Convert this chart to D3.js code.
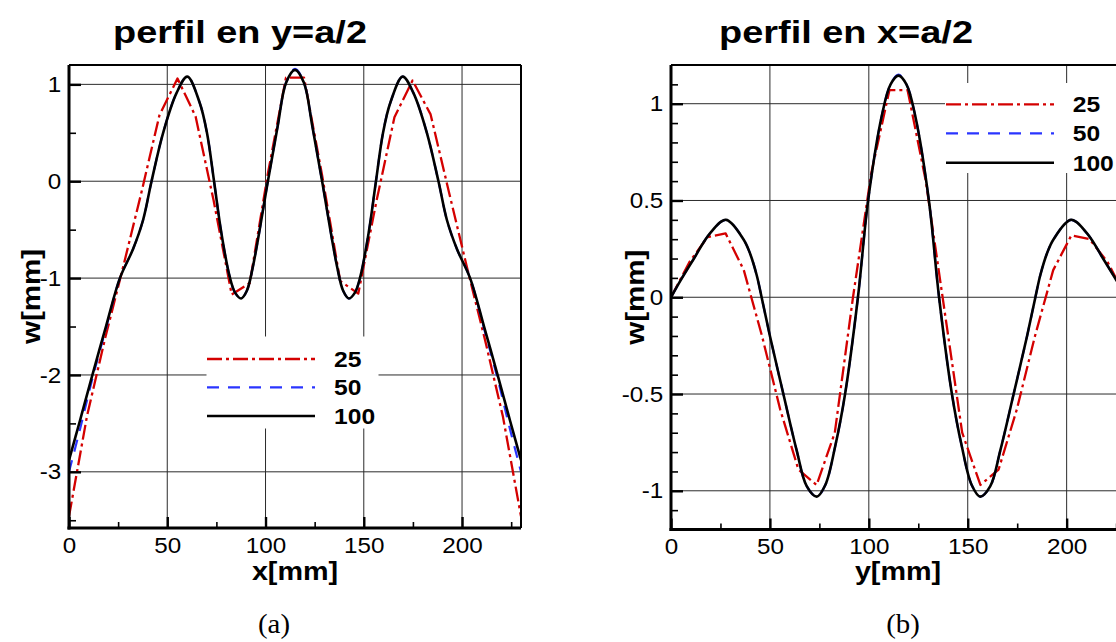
<!DOCTYPE html>
<html>
<head>
<meta charset="utf-8">
<script src="https://cdn.jsdelivr.net/npm/d3@7"></script>
<style>
  body { margin: 0; background: #fff; }
  svg { display: block; }
</style>
</head>
<body>
<svg id="chart" width="1116" height="642"></svg>
<script>
// Mesh sizes shown in the legends
const meshLabels = ["25", "50", "100"];

// (a) profile along y = a/2 : coarse mesh nodes
const aX25 = [0, 9.2, 18.4, 27.6, 36.8, 46, 55.2, 64.4, 73.6, 82.8, 92, 101.2, 110.4, 119.6,
              128.8, 138, 147.2, 156.4, 165.6, 174.8, 184, 193.2, 202.4, 211.6, 220.8, 230];
const aW25 = [-3.46, -2.42, -1.62, -0.88, -0.12, 0.68, 1.06, 0.67, -0.2, -1.17, -1.05, 0.08, 1.07, 1.07,
              0.06, -1.03, -1.16, -0.21, 0.66, 1.04, 0.69, -0.1, -0.88, -1.63, -2.43, -3.46];

// (a) finer meshes, sampled positions along x
const aX = [0, 5.6, 11.5, 18.8, 25.9, 32.6, 37.7, 42, 47.9, 54.7, 60.2, 66.5, 70.2, 73.8, 77.5, 81.7,
            84.5, 87.6, 90.5, 93.6, 101.2, 106.2, 110.5, 115, 119.5, 123.8, 128.8, 136.4, 139.5, 142.4,
            145.5, 148.3, 152.5, 156.2, 159.8, 163.5, 169.8, 175.3, 182.1, 188, 192.3, 197.4, 204.1,
            211.2, 218.5, 224.4, 230];
const aW50 = [-3.0, -2.56, -2.07, -1.52, -1.0, -0.7, -0.4, 0, 0.5, 0.91, 1.08, 0.81, 0.5, 0, -0.53, -0.98,
              -1.15, -1.21, -1.13, -0.88, 0, 0.57, 1.02, 1.16, 1.02, 0.57, 0, -0.88, -1.13, -1.21,
              -1.15, -0.98, -0.53, 0, 0.5, 0.81, 1.08, 0.91, 0.5, 0, -0.4, -0.7, -1.0,
              -1.52, -2.07, -2.56, -3.0];
const aW100 = [-2.88, -2.47, -2.03, -1.5, -1.0, -0.7, -0.4, 0, 0.5, 0.91, 1.08, 0.81, 0.5, 0, -0.53, -0.98,
               -1.15, -1.21, -1.13, -0.88, 0, 0.57, 1.02, 1.15, 1.02, 0.57, 0, -0.88, -1.13, -1.21,
               -1.15, -0.98, -0.53, 0, 0.5, 0.81, 1.08, 0.91, 0.5, 0, -0.4, -0.7, -1.0,
               -1.5, -2.03, -2.47, -2.88];

// (b) profile along x = a/2 : coarse mesh nodes
const bX25 = [0, 9.2, 18.4, 27.6, 36.8, 46, 55.2, 64.4, 73.6, 82.8, 92, 101.2, 110.4, 119.6,
              128.8, 138, 147.2, 156.4, 165.6, 174.8, 184, 193.2, 202.4, 211.6, 220.8, 230];
const bW25 = [0, 0.18, 0.31, 0.33, 0.14, -0.2, -0.58, -0.89, -0.97, -0.7, 0, 0.64, 1.07, 1.07,
              0.6, -0.05, -0.7, -0.97, -0.89, -0.58, -0.2, 0.14, 0.32, 0.3, 0.18, 0];

// (b) finer meshes, sampled positions along y
const bX = [0, 5, 11.3, 19.7, 27.8, 36.6, 40, 43.3, 45.8, 50, 56.8, 63.5, 68.6, 73.7, 78, 83, 88, 94.5,
            99.7, 106.5, 111, 115, 119, 123.5, 130.3, 135.5, 142, 147, 152, 156.3, 161.4, 166.5,
            173.2, 180, 184.2, 186.7, 190, 193.4, 202.2, 210.3, 218.7, 225, 230];
const bW50 = [0, 0.09, 0.195, 0.33, 0.4, 0.3, 0.225, 0.115, 0, -0.2, -0.5, -0.79, -0.976, -1.03, -0.97, -0.77, -0.5, 0,
              0.505, 0.935, 1.1, 1.15, 1.1, 0.935, 0.505, 0, -0.5, -0.77, -0.97, -1.03, -0.976, -0.79,
              -0.5, -0.2, 0, 0.115, 0.225, 0.3, 0.4, 0.33, 0.195, 0.09, 0];
const bW100 = [0, 0.09, 0.195, 0.33, 0.4, 0.3, 0.225, 0.115, 0, -0.2, -0.5, -0.79, -0.976, -1.03, -0.97, -0.77, -0.5, 0,
               0.505, 0.935, 1.1, 1.145, 1.1, 0.935, 0.505, 0, -0.5, -0.77, -0.97, -1.03, -0.976, -0.79,
               -0.5, -0.2, 0, 0.115, 0.225, 0.3, 0.4, 0.33, 0.195, 0.09, 0];

// Axis ticks
const xMajor = [0, 50, 100, 150, 200];
const xMinor = [25, 75, 125, 175, 225];
const aYMajor = [-3, -2, -1, 0, 1];
const aYMinor = [-3.5, -2.5, -1.5, -0.5, 0.5];
const bYMajor = [-1, -0.5, 0, 0.5, 1];
const bYMinor = [-1.1, -0.9, -0.8, -0.7, -0.6, -0.4, -0.3, -0.2, -0.1,
                 0.1, 0.2, 0.3, 0.4, 0.6, 0.7, 0.8, 0.9, 1.1];

const SANS = "'Liberation Sans', Arial, Helvetica, sans-serif";
const SERIF = "'Liberation Serif', 'Times New Roman', serif";

const styles = [
  { color: "#d40000", width: 2.3, dash: "15,4,3,4", curve: d3.curveLinear },
  { color: "#2a35ff", width: 2.2, dash: "12,9", curve: d3.curveCatmullRom.alpha(0.5) },
  { color: "#000000", width: 2.6, dash: null, curve: d3.curveCatmullRom.alpha(0.5) }
];

const svg = d3.select("#chart");

// Text whose glyphs are widened horizontally by factor sx
function wideText(parent, x, y, str, size, sx, o = {}) {
  const rot = o.rotate ? ` rotate(${o.rotate})` : "";
  return parent.append("text")
    .attr("transform", `translate(${x},${y})${rot} scale(${sx},1)`)
    .attr("text-anchor", o.anchor || "middle")
    .attr("font-family", o.family || SANS)
    .attr("font-weight", o.weight || "bold")
    .attr("font-size", size)
    .attr("fill", "#000")
    .text(str);
}

function panel(cfg) {
  const x = d3.scaleLinear().domain([0, 230]).range([cfg.left, cfg.right]);
  const y = d3.scaleLinear().domain(cfg.yDomain).range([cfg.bottom, cfg.top]);
  const g = svg.append("g");

  g.append("clipPath").attr("id", cfg.id + "-clip")
    .append("rect")
    .attr("x", cfg.left).attr("y", cfg.top)
    .attr("width", cfg.right - cfg.left).attr("height", cfg.bottom - cfg.top);

  // grid lines at the major ticks
  const grid = g.append("g").attr("stroke", "#2b2b2b").attr("stroke-width", 1);
  grid.selectAll("line.gx").data(xMajor.filter(d => d > 0)).join("line").attr("class", "gx")
    .attr("x1", d => x(d)).attr("x2", d => x(d))
    .attr("y1", cfg.top).attr("y2", cfg.bottom);
  grid.selectAll("line.gy").data(cfg.yMajor).join("line").attr("class", "gy")
    .attr("x1", cfg.left).attr("x2", cfg.right)
    .attr("y1", d => y(d)).attr("y2", d => y(d));

  // legend background hides the grid under it
  const L = cfg.legend;
  g.append("rect").attr("x", L.x0).attr("y", L.y0)
    .attr("width", L.x1 - L.x0).attr("height", L.y1 - L.y0).attr("fill", "#fff");

  // curves
  const curves = g.append("g").attr("clip-path", `url(#${cfg.id}-clip)`).attr("fill", "none");
  cfg.series.forEach((s, i) => {
    const st = styles[i];
    const pts = s.x.map((v, k) => [v, s.w[k]]);
    curves.append("path")
      .datum(pts)
      .attr("stroke", st.color)
      .attr("stroke-width", st.width)
      .attr("stroke-dasharray", st.dash)
      .attr("stroke-linejoin", "round")
      .attr("d", d3.line().x(d => x(d[0])).y(d => y(d[1])).curve(st.curve));
  });

  // legend entries
  meshLabels.forEach((lab, i) => {
    const st = styles[i];
    const ry = L.rows[i];
    g.append("line")
      .attr("x1", L.lx0).attr("x2", L.lx1).attr("y1", ry).attr("y2", ry)
      .attr("stroke", st.color).attr("stroke-width", st.width)
      .attr("stroke-dasharray", st.dash);
    wideText(g, L.tx, ry + 8, lab, 22, 1.12, { anchor: "start" });
  });

  // axes (ticks point inward)
  const fmt = d => String(d);
  const styleAxis = (sel, w) => {
    sel.select(".domain").remove();
    sel.selectAll(".tick line").attr("stroke", "#000").attr("stroke-width", w);
  };
  const xAx = g.append("g").attr("transform", `translate(0,${cfg.bottom})`)
    .call(d3.axisBottom(x).tickValues(xMajor).tickSize(-11).tickPadding(9).tickFormat(fmt));
  g.append("g").attr("transform", `translate(0,${cfg.bottom})`)
    .call(d3.axisBottom(x).tickValues(xMinor).tickSize(-6).tickFormat(""))
    .call(s => styleAxis(s, 1.6));
  styleAxis(xAx, 2.4);

  const yAx = g.append("g").attr("transform", `translate(${cfg.left},0)`)
    .call(d3.axisLeft(y).tickValues(cfg.yMajor).tickSize(-12).tickPadding(7).tickFormat(fmt));
  g.append("g").attr("transform", `translate(${cfg.left},0)`)
    .call(d3.axisLeft(y).tickValues(cfg.yMinor).tickSize(-7).tickFormat(""))
    .call(s => styleAxis(s, 1.6));
  styleAxis(yAx, 2.4);

  [xAx, yAx].forEach(a => a.selectAll(".tick text")
    .attr("font-family", SANS).attr("font-size", 22).attr("fill", "#000")
    .attr("transform", "scale(1.1,1)"));

  // frame
  const frame = g.append("g").attr("stroke", "#000");
  frame.append("line").attr("x1", cfg.left).attr("x2", cfg.right).attr("y1", cfg.top).attr("y2", cfg.top).attr("stroke-width", 2);
  frame.append("line").attr("x1", cfg.right).attr("x2", cfg.right).attr("y1", cfg.top).attr("y2", cfg.bottom).attr("stroke-width", 2);
  frame.append("line").attr("x1", cfg.left - 1.5).attr("x2", cfg.right).attr("y1", cfg.bottom).attr("y2", cfg.bottom).attr("stroke-width", 3);
  frame.append("line").attr("x1", cfg.left).attr("x2", cfg.left).attr("y1", cfg.top).attr("y2", cfg.bottom + 1.5).attr("stroke-width", 3);

  // titles and labels
  wideText(g, cfg.titleX, 43, cfg.title, 32, 1.185);
  wideText(g, (cfg.left + Math.min(cfg.right, 1116)) / 2 + cfg.xLabelShift, 580, cfg.xLabel, 25, 1.15);
  wideText(g, cfg.yLabelX, (cfg.top + cfg.bottom) / 2, "w[mm]", 25, 1.18, { rotate: -90 });
  wideText(g, cfg.capX, 633, cfg.caption, 28, 1.03, { family: SERIF, weight: "normal" });
}

panel({
  id: "pa", left: 69, right: 521, top: 65, bottom: 528,
  yDomain: [-3.58, 1.2], yMajor: aYMajor, yMinor: aYMinor,
  series: [{ x: aX25, w: aW25 }, { x: aX, w: aW50 }, { x: aX, w: aW100 }],
  legend: { x0: 206.5, x1: 378.5, y0: 336.5, y1: 428.5, lx0: 207, lx1: 315, tx: 334, rows: [359, 387.3, 416] },
  title: "perfil en y=a/2", titleX: 240,
  xLabel: "x[mm]", xLabelShift: 0, yLabelX: 40,
  caption: "(a)", capX: 274
});

panel({
  id: "pb", left: 671, right: 1126, top: 65, bottom: 529.5,
  yDomain: [-1.2, 1.2], yMajor: bYMajor, yMinor: bYMinor,
  series: [{ x: bX25, w: bW25 }, { x: bX, w: bW50 }, { x: bX, w: bW100 }],
  legend: { x0: 945, x1: 1130, y0: 83, y1: 173, lx0: 946, lx1: 1054, tx: 1072.7, rows: [104.3, 133.3, 162.7] },
  title: "perfil en x=a/2", titleX: 846,
  xLabel: "y[mm]", xLabelShift: 4.5, yLabelX: 644,
  caption: "(b)", capX: 903
});
</script>
</body>
</html>
